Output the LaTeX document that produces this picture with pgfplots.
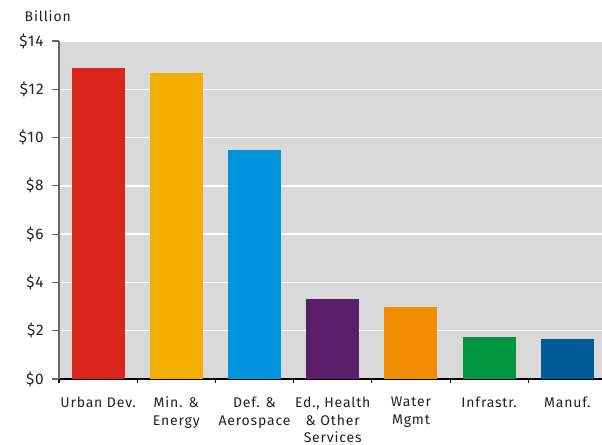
\documentclass[border=0pt]{standalone}
\usepackage{fontspec}
\setmainfont{Fira Sans}[LetterSpace=6]
\usepackage{pgfplots}
\pgfplotsset{compat=1.18}
\definecolor{panel}{HTML}{D9D9D9}
\definecolor{txt}{HTML}{222222}
\definecolor{cUrban}{HTML}{DA251D}
\definecolor{cMin}{HTML}{F5AF00}
\definecolor{cDef}{HTML}{0094DD}
\definecolor{cEd}{HTML}{5A1E6A}
\definecolor{cWater}{HTML}{F28C00}
\definecolor{cInfra}{HTML}{00953E}
\definecolor{cManuf}{HTML}{005B96}
\begin{document}
\begin{tikzpicture}
\begin{axis}[
  at={(44.25pt,49.5pt)}, anchor=south west,
  scale only axis, width=410.6pt, height=253.5pt,
  xmin=-0.5, xmax=6.5, ymin=0, ymax=14,
  axis background/.style={fill=panel},
  axis x line*=bottom, axis y line*=left,
  x axis line style={draw=black, line width=1pt, -},
  y axis line style={draw=black!60, line width=1pt, -},
  ytick={0,2,...,14},
  yticklabels={\$0,\$2,\$4,\$6,\$8,\$10,\$12,\$14},
  ymajorgrids, grid style={white, line width=1pt},
  xtick={0,...,6},
  xticklabels={Urban Dev., {Min. \&\\Energy}, {Def. \&\\Aerospace}, {Ed., Health\\\& Other\\Services}, {Water\\Mgmt}, Infrastr., Manuf.},
  minor xtick={-0.5,0.5,...,6.5},
  major x tick style={draw=none},
  minor x tick style={draw=black, line width=0.8pt},
  y tick style={draw=black!60, line width=0.8pt},
  tick align=outside,
  major tick length=5pt, minor tick length=3pt,
  tick label style={font=\fontsize{10.5}{13.2}\selectfont, text=txt},
  xticklabel style={align=center, yshift=-5pt},
  yticklabel style={xshift=-3pt, font=\fontsize{11.5}{13}\selectfont},
  ybar, bar width=39.75pt, bar shift=0pt,
  every axis plot/.append style={draw=none},
]
\addplot[fill=cUrban] coordinates {(0,12.88)};
\addplot[fill=cMin] coordinates {(1,12.68)};
\addplot[fill=cDef] coordinates {(2,9.49)};
\addplot[fill=cEd] coordinates {(3,3.31)};
\addplot[fill=cWater] coordinates {(4,2.98)};
\addplot[fill=cInfra] coordinates {(5,1.74)};
\addplot[fill=cManuf] coordinates {(6,1.66)};
\end{axis}
\node[anchor=west, text=txt, font=\fontsize{10.5}{12}\selectfont] at (15pt,321.75pt) {Billion};
\pgfresetboundingbox
\useasboundingbox (0,0) rectangle (451.5pt,333.75pt);
\end{tikzpicture}
\end{document}
